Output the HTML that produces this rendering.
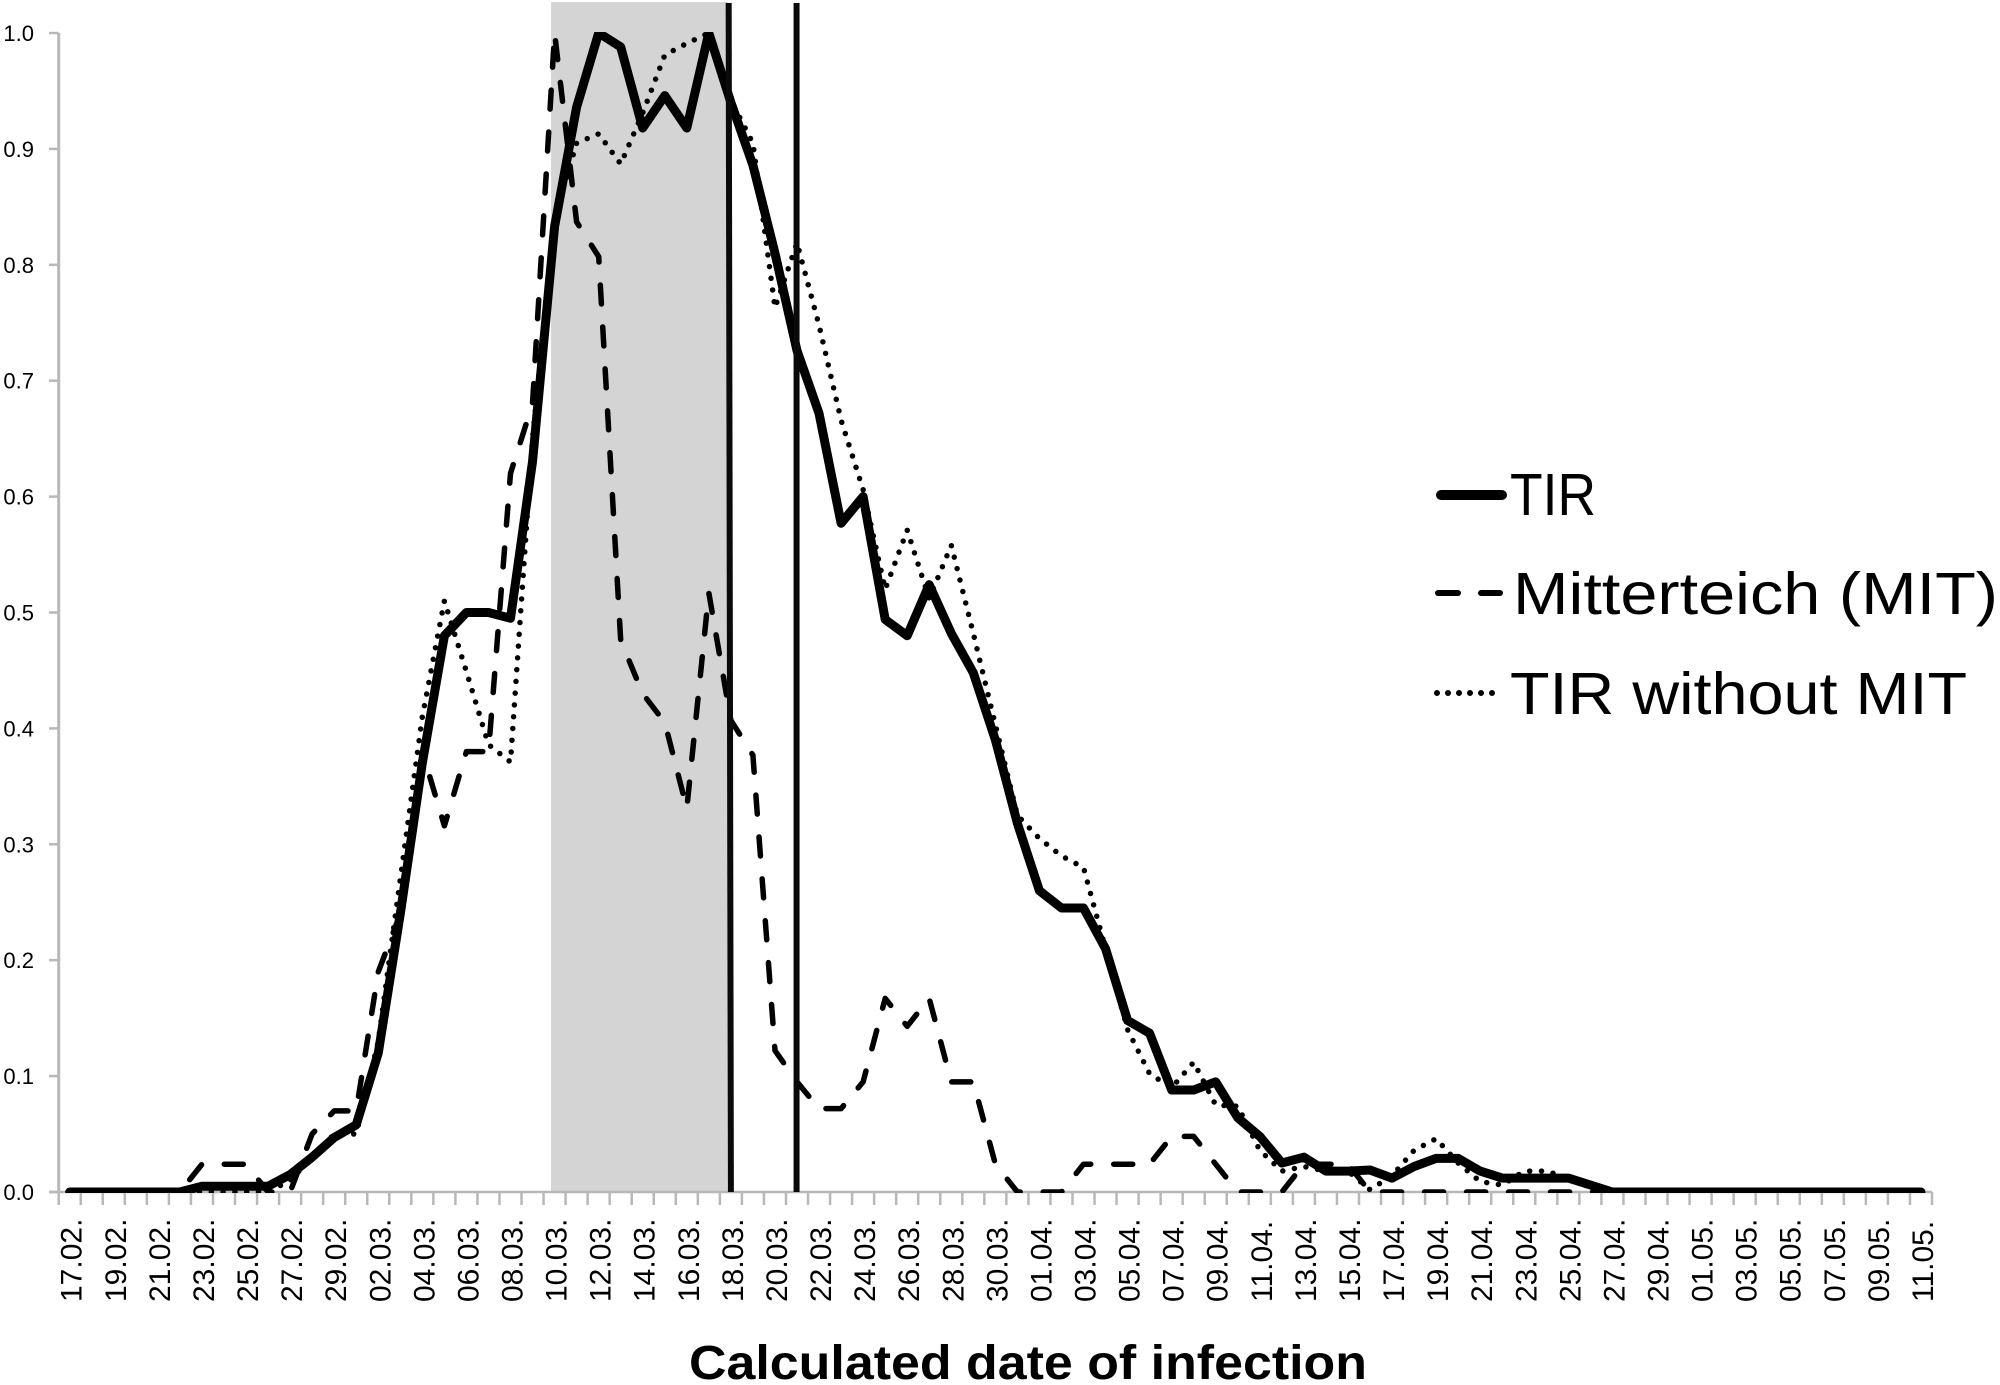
<!DOCTYPE html>
<html lang="en">
<head>
<meta charset="utf-8">
<title>Calculated date of infection</title>
<style>
html,body{margin:0;padding:0;background:#fff;}
svg{display:block;}
text{font-family:"Liberation Sans",sans-serif;fill:#000;}
</style>
</head>
<body>
<svg id="chart" xmlns="http://www.w3.org/2000/svg" width="2000" height="1385" viewBox="0 0 2000 1385">
  <defs>
    <clipPath id="plot-clip"><rect x="50" y="32" width="1890" height="1161"/></clipPath>
  </defs>
  <rect x="0" y="0" width="2000" height="1385" fill="#fff"/>
  <g id="shade-layer"></g>
  <g id="axis-layer"></g>
  <g id="series-layer" clip-path="url(#plot-clip)"></g>
  <g id="marker-layer"></g>
  <text x="689" y="1379" font-size="48" font-weight="bold" textLength="678" lengthAdjust="spacingAndGlyphs">Calculated date of infection</text>
  <g>
    <g>
      <line x1="1441" y1="495" x2="1502" y2="495" stroke="#000" stroke-width="10" stroke-linecap="round"/>
      <text x="1510" y="515" font-size="59" textLength="86" lengthAdjust="spacingAndGlyphs">TIR</text>
    </g>
    <g>
      <line x1="1438" y1="615" x2="1458" y2="615" stroke="#000" stroke-width="6" stroke-linecap="round" transform="translate(0 -22)"/>
      <line x1="1481" y1="615" x2="1500" y2="615" stroke="#000" stroke-width="6" stroke-linecap="round" transform="translate(0 -22)"/>
      <text x="1513" y="614" font-size="59" textLength="485" lengthAdjust="spacingAndGlyphs">Mitterteich (MIT)</text>
    </g>
    <g>
      <line x1="1437" y1="693" x2="1503" y2="693" stroke="#000" stroke-width="6" stroke-linecap="round" stroke-dasharray="0 11"/>
      <text x="1510" y="714" font-size="59" textLength="457" lengthAdjust="spacingAndGlyphs">TIR without MIT</text>
    </g>
  </g>
</svg>
<script>
// Every second day is labelled; each series holds one value per day (85 days).
const dateLabels = ["17.02.","19.02.","21.02.","23.02.","25.02.","27.02.","29.02.",
  "02.03.","04.03.","06.03.","08.03.","10.03.","12.03.","14.03.","16.03.","18.03.","20.03.","22.03.","24.03.","26.03.","28.03.","30.03.",
  "01.04.","03.04.","05.04.","07.04.","09.04.","11.04.","13.04.","15.04.","17.04.","19.04.","21.04.","23.04.","25.04.","27.04.","29.04.",
  "01.05.","03.05.","05.05.","07.05.","09.05.","11.05."];
const yTickLabels = ["0.0","0.1","0.2","0.3","0.4","0.5","0.6","0.7","0.8","0.9","1.0"];
const tirValues = [
  0,0,0,0,0,0,.005,.005,.005,.005,
  .015,.03,.047,.058,.12,.24,.37,.48,.5,.5,
  .495,.63,.833,.936,1,.988,.918,.946,.918,1,
  .94,.886,.81,.726,.672,.577,.6,.494,.48,.524,
  .482,.448,.39,.318,.26,.245,.245,.21,.148,.137,
  .088,.088,.095,.064,.048,.025,.03,.018,.018,.019,
  .012,.022,.029,.029,.018,.012,.012,.012,.012,.006,
  0,0,0,0,0,0,0,0,0,0,
  0,0,0,0,0];
const mitValues = [
  0,0,0,0,0,0,.024,.024,.024,0,
  0,.05,.07,.07,.19,.24,.38,.316,.38,.38,
  .62,.68,1,.837,.807,.476,.43,.405,.331,.517,
  .407,.377,.122,.095,.072,.072,.095,.167,.143,.167,
  .095,.095,.024,0,0,0,.024,.024,.024,.024,
  .048,.048,.024,0,0,0,.024,.024,.024,0,
  0,0,0,0,0,0,0,0,0,0,
  0,0,0,0,0,0,0,0,0,0,
  0,0,0,0,0];
const tirWithoutMitValues = [
  0,0,0,0,0,0,0,0,0,0,
  .01,.03,.05,.05,.13,.27,.41,.51,.449,.386,
  .371,.65,.84,.905,.913,.887,.931,.981,.991,1,
  .942,.905,.763,.819,.748,.666,.606,.52,.571,.512,
  .558,.482,.403,.325,.305,.29,.28,.21,.14,.102,
  .09,.112,.075,.074,.036,.018,.022,.018,.018,.002,
  .014,.036,.046,.025,.009,.006,.018,.018,.012,.004,
  0,0,0,0,0,0,0,0,0,0,
  0,0,0,0,0];
const shadedDays = [21.84, 29.85];
const markerDaysTop = [29.9, 32.98];
const markerDaysBottom = [30.0, 32.98];

const NS = "http://www.w3.org/2000/svg";
const dayCount = tirValues.length;
const plotLeft = 58.7, plotRight = 1932, plotTop = 33, plotBottom = 1192;
const dayWidth = (plotRight - plotLeft) / dayCount;
function xScale(day){ return plotLeft + (day + 0.5) * dayWidth; }
function yScale(v){ return plotBottom - (plotBottom - plotTop) * v; }
function make(tag, attrs, parent){
  const el = document.createElementNS(NS, tag);
  for (const k in attrs) el.setAttribute(k, attrs[k]);
  parent.appendChild(el);
  return el;
}
const shadeLayer = document.getElementById("shade-layer");
const axisLayer = document.getElementById("axis-layer");
const seriesLayer = document.getElementById("series-layer");
const markerLayer = document.getElementById("marker-layer");
const AXIS = "#b8b8b8";

const shade = make("rect", {x:xScale(shadedDays[0]), y:2, width:xScale(shadedDays[1])-xScale(shadedDays[0]), height:plotBottom-2, fill:"#d4d4d4"}, shadeLayer);



const yAxisLine = make("line", {x1:plotLeft, y1:plotTop, x2:plotLeft, y2:plotBottom, stroke:AXIS, "stroke-width":3}, axisLayer);


const xAxisLine = make("line", {x1:49, y1:plotBottom, x2:plotRight, y2:plotBottom, stroke:AXIS, "stroke-width":2.5}, axisLayer);



yTickLabels.forEach(function(label, i){
  const v = parseFloat(label);
  const tick = make("line", {x1:49, y1:yScale(v), x2:plotLeft, y2:yScale(v), stroke:AXIS, "stroke-width":2.5}, axisLayer);
  
  
  const t = make("text", {x:34, y:yScale(v)+8, "font-size":22, "text-anchor":"end"}, axisLayer);
  
  
  t.textContent = label;
});
for (let d = 0; d <= dayCount; d++){
  const tx = plotLeft + d * dayWidth;
  const tick = make("line", {x1:tx, y1:plotBottom, x2:tx, y2:1205, stroke:AXIS, "stroke-width":2.5}, axisLayer);
  
  
}
dateLabels.forEach(function(label, i){
  const cx = xScale(i * 2) + 12;
  const t = make("text", {x:cx, y:1302, "font-size":30, transform:"rotate(-90 "+cx+" 1302)"}, axisLayer);
  
  
  t.textContent = label;
});

function linePath(values){
  return values.map(function(v, i){ return (i ? "L" : "M") + xScale(i).toFixed(1) + " " + yScale(v).toFixed(1); }).join(" ");
}
const dotted = make("path", {d:linePath(tirWithoutMitValues), fill:"none", stroke:"#000", "stroke-width":5.5, "stroke-linecap":"round", "stroke-linejoin":"round", "stroke-dasharray":"0 11.8"}, seriesLayer);


const dashed = make("path", {d:linePath(mitValues), fill:"none", stroke:"#000", "stroke-width":5.5, "stroke-linecap":"round", "stroke-linejoin":"round", "stroke-dasharray":"19 23"}, seriesLayer);


const solid = make("path", {d:linePath(tirValues), fill:"none", stroke:"#000", "stroke-width":9, "stroke-linecap":"round", "stroke-linejoin":"round"}, seriesLayer);



markerDaysTop.forEach(function(day, i){
  const m = make("line", {x1:xScale(day), y1:3, x2:xScale(markerDaysBottom[i]), y2:plotBottom, stroke:"#0a0a0a", "stroke-width":6}, markerLayer);
  
  
});
</script>
</body>
</html>
